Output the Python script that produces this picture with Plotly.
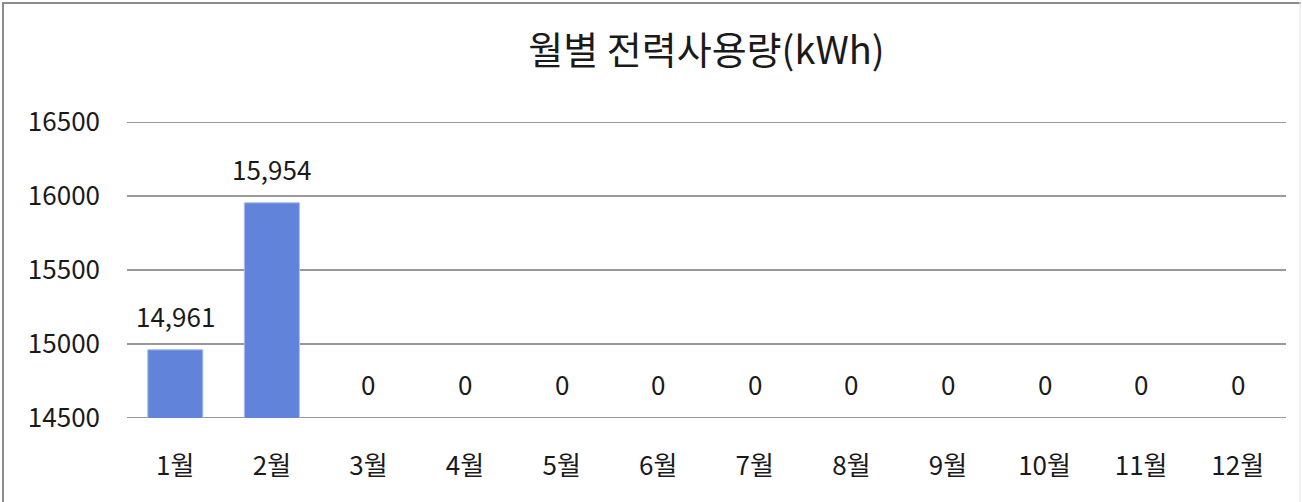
import plotly.graph_objects as go

months = ["1월", "2월", "3월", "4월", "5월", "6월", "7월", "8월", "9월", "10월", "11월", "12월"]
usage = [14961, 15954, 0, 0, 0, 0, 0, 0, 0, 0, 0, 0]
y_ticks = [14500, 15000, 15500, 16000, 16500]
y_min, y_max = 14500, 16500

FONT = "Noto Sans CJK KR"

fig = go.Figure()
fig.add_trace(go.Bar(
    x=months, y=usage, width=0.57,
    marker=dict(color="#6283DA", line=dict(color="#A9BCEC", width=1)),
    hoverinfo="x+y",
))

for m, v in zip(months, usage):
    fig.add_annotation(
        x=m, y=max(v, y_min), xref="x", yref="y",
        text=f"{v:,}", showarrow=False, yanchor="bottom", yshift=14,
        font=dict(family=FONT, size=26, color="#1a1a1a"),
    )

# gridlines at the edges of the range (plotly skips them)
for t in (y_min, y_max):
    fig.add_shape(type="line", xref="paper", yref="y", x0=0, x1=1, y0=t, y1=t,
                  line=dict(color="#999999", width=2), layer="below")

# outer chart border (left/top darker, right faint)
px = lambda x: (x - 127) / 1159
py = lambda y: (418 - y) / 296
fig.add_shape(type="line", xref="paper", yref="paper", x0=px(3), x1=px(3), y0=py(2), y1=py(502),
              line=dict(color="#8c8c8c", width=2), layer="below")
fig.add_shape(type="line", xref="paper", yref="paper", x0=px(2), x1=px(1301), y0=py(3), y1=py(3),
              line=dict(color="#8c8c8c", width=2), layer="below")
fig.add_shape(type="line", xref="paper", yref="paper", x0=px(1300), x1=px(1300), y0=py(2), y1=py(502),
              line=dict(color="#e3e3e3", width=1), layer="below")

fig.update_layout(
    width=1302, height=502,
    margin=dict(l=127, r=16, t=122, b=84, autoexpand=False),
    paper_bgcolor="white", plot_bgcolor="white",
    title=dict(text="월별 전력사용량(kWh)", x=0.5, xref="paper", xanchor="center",
               y=1 - 51 / 502, yanchor="middle",
               font=dict(family=FONT, size=38, color="#1a1a1a")),
    font=dict(family=FONT, size=26, color="#1a1a1a"),
    showlegend=False,
)
fig.update_xaxes(showgrid=False, showline=False, ticks="", tickfont=dict(size=26),
                 ticklabelstandoff=30, automargin=False)
fig.update_yaxes(range=[y_min, y_max], tickvals=y_ticks, ticktext=[str(t) for t in y_ticks],
                 showgrid=True, gridcolor="#999999", gridwidth=2, zeroline=False,
                 showline=False, ticks="", tickfont=dict(size=26), ticklabelstandoff=26,
                 automargin=False)

fig.write_html("out.html", config={"displayModeBar": False},
               post_script="document.body.style.margin='0';")
